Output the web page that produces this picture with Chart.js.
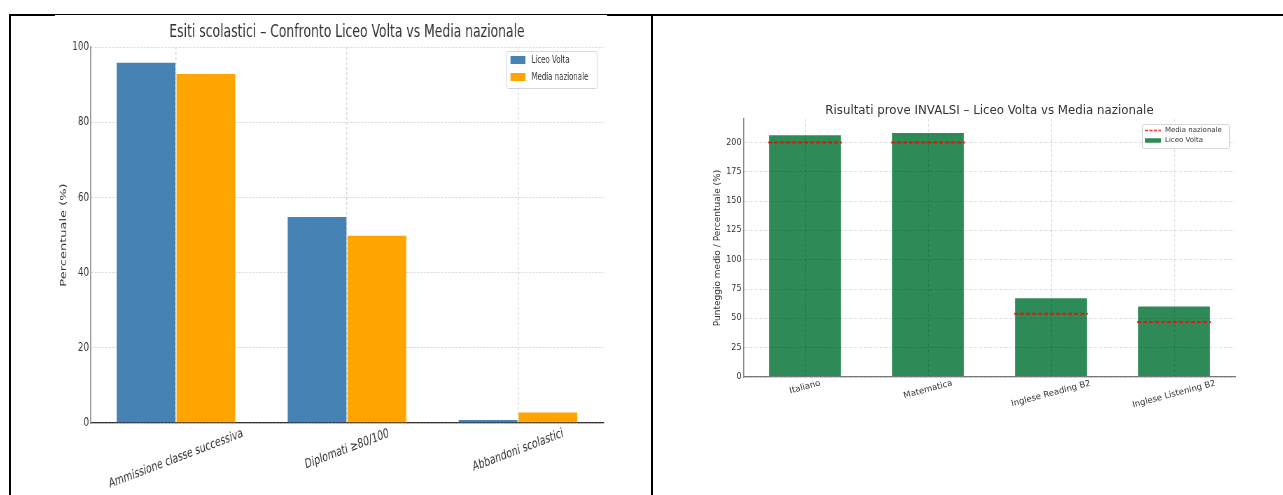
<!DOCTYPE html>
<html><head><meta charset="utf-8">
<script src="https://cdn.jsdelivr.net/npm/chart.js@4"></script>
<style>
html,body{margin:0;padding:0;background:#fff;overflow:hidden;width:1283px;height:495px;}
.b{position:absolute;background:#000;}
canvas{position:absolute;background:#fff;}
#c1{transform:scaleX(0.7);transform-origin:0 0;}
</style></head><body>
<div class="b" style="left:9px;top:14px;width:1274px;height:2px"></div>
<div class="b" style="left:9px;top:14px;width:2px;height:481px"></div>
<div class="b" style="left:651px;top:14px;width:2px;height:481px"></div>
<canvas id="c1" width="789" height="480" style="left:55px;top:15px"></canvas>
<canvas id="c2" width="629" height="479" style="left:654px;top:16px"></canvas>
<script>
// ---- Data: Esiti scolastici ----
const esitiTitle = 'Esiti scolastici – Confronto Liceo Volta vs Media nazionale';
const esitiCategories = ['Ammissione classe successiva', 'Diplomati ≥80/100', 'Abbandoni scolastici'];
const esitiLiceoVolta = [96, 55, 1];
const esitiMediaNazionale = [93, 50, 3];
const esitiTickStep = 20;

// ---- Data: INVALSI ----
const invalsiTitle = 'Risultati prove INVALSI – Liceo Volta vs Media nazionale';
const invalsiCategories = ['Italiano', 'Matematica', 'Inglese Reading B2', 'Inglese Listening B2'];
const invalsiLiceoVolta = [207, 209, 68, 61];
const invalsiMediaNazionale = [200, 200, 54, 47];
const invalsiTickStep = 25;

const DEJAVU = "'DejaVu Sans', sans-serif";

function rotatedLabels(id, family, size, color, angleDeg, pad) {
  return {
    id,
    afterDraw(chart) {
      const ctx = chart.ctx, xs = chart.scales.x;
      const th = angleDeg * Math.PI / 180;
      ctx.save();
      ctx.font = size + 'px ' + family;
      ctx.fillStyle = color;
      chart.data.labels.forEach((lab, i) => {
        const w = ctx.measureText(lab).width;
        const H = w * Math.sin(th) + size * Math.cos(th);
        const x = xs.getPixelForTick(i);
        const y = xs.top + pad + H / 2;
        ctx.save();
        ctx.translate(x, y);
        ctx.rotate(-th);
        ctx.textAlign = 'center';
        ctx.textBaseline = 'middle';
        ctx.fillText(lab, 0, 0);
        ctx.restore();
      });
      ctx.restore();
    }
  };
}

function boxLegend(id, cfg) {
  return {
    id,
    afterDraw(chart) {
      const {ctx, chartArea} = chart;
      const bx = Math.round(chartArea.right - cfg.offsetRight - cfg.width);
      const by = Math.round(chartArea.top + cfg.offsetTop);
      ctx.save();
      ctx.fillStyle = 'rgba(255,255,255,0.85)';
      ctx.strokeStyle = '#d6d6d6';
      ctx.lineWidth = 1;
      ctx.beginPath();
      ctx.roundRect(bx + 0.5, by + 0.5, cfg.width, cfg.height, 2);
      ctx.fill(); ctx.stroke();
      ctx.font = cfg.size + 'px ' + cfg.family;
      ctx.textBaseline = 'middle';
      ctx.textAlign = 'left';
      cfg.order.forEach((di, i) => {
        const ds = chart.data.datasets[di];
        const cy = by + cfg.rowTop + i * cfg.rowGap;
        if (ds.type === 'line') {
          ctx.save();
          ctx.strokeStyle = ds.borderColor;
          ctx.lineWidth = 1.5;
          ctx.setLineDash([3, 1.5]);
          ctx.beginPath();
          ctx.moveTo(bx + cfg.patchX, cy);
          ctx.lineTo(bx + cfg.patchX + cfg.patchW, cy);
          ctx.stroke();
          ctx.restore();
        } else {
          ctx.fillStyle = ds.backgroundColor;
          ctx.fillRect(bx + cfg.patchX, cy - cfg.patchH / 2, cfg.patchW, cfg.patchH);
        }
        ctx.fillStyle = '#333';
        ctx.fillText(ds.label, bx + cfg.textX, cy);
      });
      ctx.restore();
    }
  };
}

const nationalLines = {
  id: 'nationalLines',
  afterDatasetsDraw(chart) {
    const bars = chart.getDatasetMeta(0).data;
    const ys = chart.scales.y;
    const ds = chart.data.datasets[1];
    const ctx = chart.ctx;
    ctx.save();
    ctx.strokeStyle = ds.borderColor;
    ctx.lineWidth = 2;
    ctx.setLineDash([4, 2]);
    bars.forEach((b, i) => {
      const y = ys.getPixelForValue(ds.data[i]);
      const half = b.width / 2;
      ctx.beginPath();
      ctx.moveTo(b.x - half, y);
      ctx.lineTo(b.x + half, y);
      ctx.stroke();
    });
    ctx.restore();
  }
};

// ---- Left chart (canvas drawn wide, displayed horizontally compressed like the original image) ----
new Chart(document.getElementById('c1'), {
  type: 'bar',
  data: {
    labels: esitiCategories,
    datasets: [
      {label: 'Liceo Volta', data: esitiLiceoVolta, backgroundColor: '#4682B4',
       borderColor: 'rgba(255,255,255,0.3)', borderWidth: 0.8, categoryPercentage: 0.7, barPercentage: 1},
      {label: 'Media nazionale', data: esitiMediaNazionale, backgroundColor: '#FFA500',
       borderColor: 'rgba(255,255,255,0.3)', borderWidth: 0.8, categoryPercentage: 0.7, barPercentage: 1}
    ]
  },
  options: {
    responsive: false, animation: false, devicePixelRatio: 1,
    layout: {padding: {left: 0, right: 5.4, top: 0, bottom: 0}},
    plugins: {
      legend: {display: false}, tooltip: {enabled: false},
      title: {display: true, text: esitiTitle, fullSize: false, color: '#333',
              font: {family: DEJAVU, size: 17.7, weight: 'normal'}, padding: {top: 6.9, bottom: 3.86}}
    },
    scales: {
      x: {
        grid: {offset: false, color: '#dadada', lineWidth: 1.4, drawTicks: false},
        border: {color: '#333', width: 1.3, dash: [3, 2]},
        ticks: {display: false},
        afterFit: s => { s.height = 72; }
      },
      y: {
        min: 0, max: 100,
        ticks: {stepSize: esitiTickStep, color: '#333', padding: 2, font: {family: DEJAVU, size: 12.5}},
        grid: {color: '#dadada', drawTicks: false},
        border: {color: '#999', width: 1.8, dash: [3, 2]},
        title: {display: true, text: 'Percentuale (%)', color: '#333',
                font: {family: DEJAVU, size: 13, weight: 'normal'}, padding: {top: 5.1, bottom: 0}},
        afterFit: s => { s.width = 50.7; }
      }
    }
  },
  plugins: [
    rotatedLabels('xl1', DEJAVU, 13, '#333', 15, 4),
    boxLegend('lg1', {offsetRight: 9.3, offsetTop: 4, width: 129, height: 37, rowTop: 9, rowGap: 17,
      patchX: 5.7, patchW: 21.4, patchH: 8, textX: 35.7, size: 10, family: DEJAVU, order: [0, 1]})
  ]
});

// ---- Right chart ----
new Chart(document.getElementById('c2'), {
  type: 'bar',
  data: {
    labels: invalsiCategories,
    datasets: [
      {label: 'Liceo Volta', data: invalsiLiceoVolta, backgroundColor: '#2E8B57',
       borderColor: 'rgba(255,255,255,0.3)', borderWidth: 1, categoryPercentage: 0.6, barPercentage: 1},
      {type: 'line', label: 'Media nazionale', data: invalsiMediaNazionale, borderColor: 'rgba(255,0,0,0.8)',
       showLine: false, pointRadius: 0, pointHoverRadius: 0}
    ]
  },
  options: {
    responsive: false, animation: false, devicePixelRatio: 1,
    layout: {padding: {left: 0, right: 47.5, top: 0, bottom: 0}},
    plugins: {
      legend: {display: false}, tooltip: {enabled: false},
      title: {display: true, text: invalsiTitle, fullSize: false, color: '#333',
              font: {family: DEJAVU, size: 11.8, weight: 'normal'}, padding: {top: 87.9, bottom: 0.94}}
    },
    scales: {
      x: {
        grid: {offset: false, color: 'rgba(0,0,0,0.12)', drawTicks: false, z: 1},
        border: {color: '#777', width: 1.3, dash: [3, 2], z: 2},
        ticks: {display: false},
        afterFit: s => { s.height = 118; }
      },
      y: {
        min: 0, max: 220,
        ticks: {stepSize: invalsiTickStep, includeBounds: false, color: '#333', padding: 2,
                font: {family: DEJAVU, size: 8}},
        grid: {color: 'rgba(0,0,0,0.12)', drawTicks: false, z: 1},
        border: {color: '#888', width: 1.3, dash: [3, 2], z: 2},
        title: {display: true, text: 'Punteggio medio / Percentuale (%)', color: '#333',
                font: {family: DEJAVU, size: 9, weight: 'normal'}, padding: {top: 58.6, bottom: 0}},
        afterFit: s => { s.width = 89.5; }
      }
    }
  },
  plugins: [
    nationalLines,
    rotatedLabels('xl2', DEJAVU, 8.5, '#333', 15, 2),
    boxLegend('lg2', {offsetRight: 6.5, offsetTop: 5, width: 87, height: 24, rowTop: 6.5, rowGap: 10,
      patchX: 3, patchW: 16, patchH: 4.5, textX: 23, size: 7, family: DEJAVU, order: [1, 0]})
  ]
});
</script>
</body></html>
